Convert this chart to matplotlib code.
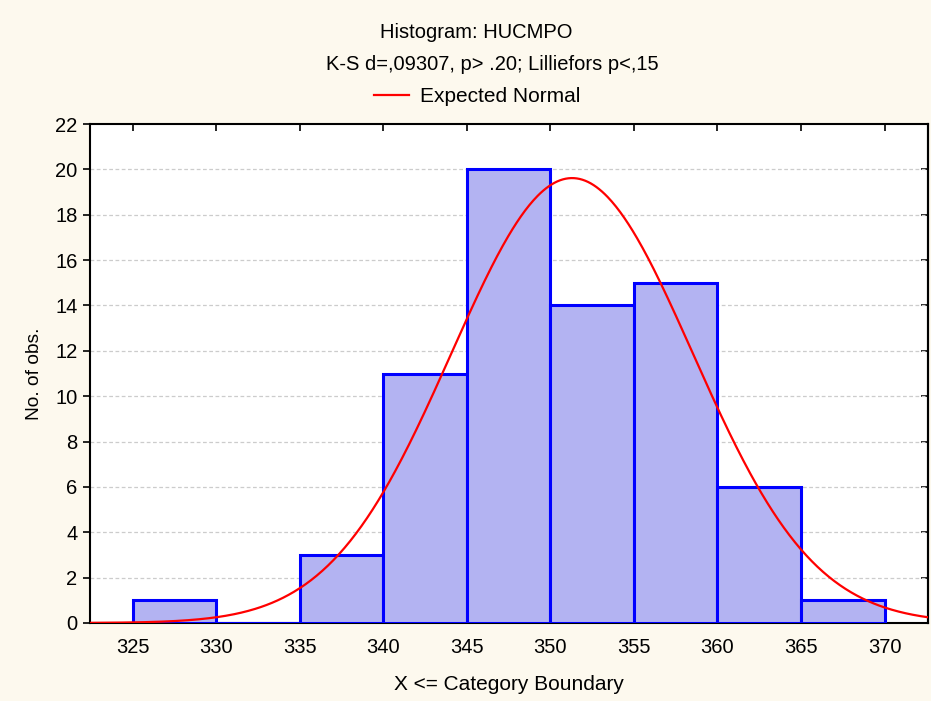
import numpy as np
import matplotlib
matplotlib.use("Agg")
import matplotlib.pyplot as plt

# Data
bin_edges = [325, 330, 335, 340, 345, 350, 355, 360, 365, 370]
counts = [1, 0, 3, 11, 20, 14, 15, 6, 1]
x_ticks = [325, 330, 335, 340, 345, 350, 355, 360, 365, 370]
y_ticks = [0, 2, 4, 6, 8, 10, 12, 14, 16, 18, 20, 22]
normal_mean = 351.3
normal_sd = 7.22
title_lines = ["Histogram: HUCMPO", "K-S d=,09307, p> .20; Lilliefors p<,15"]

plt.rcParams['font.family'] = ['Liberation Sans', 'DejaVu Sans']

bg = '#fdf9ee'
fig = plt.figure(figsize=(9.31, 7.01), dpi=100, facecolor=bg)
ax = fig.add_axes([90/931, 78/701, 838/931, 499/701])
ax.set_facecolor('white')

widths = np.diff(bin_edges)
ax.bar(bin_edges[:-1], counts, width=widths, align='edge',
       color='#b3b3f2', edgecolor='#0000ff', linewidth=2.2, zorder=3)

xmin, xmax = 322.45, 372.6
xs = np.linspace(xmin, xmax, 600)
n = sum(counts)
bw = 5
ys = n * bw / (normal_sd * np.sqrt(2 * np.pi)) * np.exp(-0.5 * ((xs - normal_mean) / normal_sd) ** 2)
line, = ax.plot(xs, ys, color='#ff0000', linewidth=1.6, zorder=4, label='Expected Normal')

ax.set_xlim(xmin, xmax)
ax.set_ylim(0, 22)
ax.set_xticks(x_ticks)
ax.set_yticks(y_ticks)
ax.tick_params(axis='both', labelsize=14.5, colors='black')
ax.tick_params(axis='x', direction='in', top=True, length=5, width=1.2, pad=11)
ax.tick_params(axis='y', direction='out', length=5, width=1.2, pad=4)
ax.tick_params(axis='y', which='both', right=False)
# right side inward ticks
ax2 = ax.secondary_yaxis('right')
ax2.set_yticks(y_ticks)
ax2.tick_params(direction='in', length=5, width=1.2, labelright=False)
ax2.spines['right'].set_linewidth(1.5)

for g in y_ticks[1:-1]:
    ax.axhline(g, color='#cccccc', linestyle=(0, (3, 2)), linewidth=0.9, zorder=1)

for s in ax.spines.values():
    s.set_linewidth(1.5)
    s.set_color('black')

ax.set_xlabel('X <= Category Boundary', fontsize=15, labelpad=13)
ax.set_ylabel('No. of obs.', fontsize=13.8, labelpad=9)

fig.text(476/931, 1 - 33/701, title_lines[0], ha='center', va='center', fontsize=14.5)
fig.text(492/931, 1 - 65/701, title_lines[1], ha='center', va='center', fontsize=14.5)
fig.legend(handles=[line], loc='center', bbox_to_anchor=(477/931, 1 - 97/701),
           frameon=False, fontsize=15, handlelength=1.7, handletextpad=0.5)

fig.savefig('out.png', dpi=100, facecolor=bg)
